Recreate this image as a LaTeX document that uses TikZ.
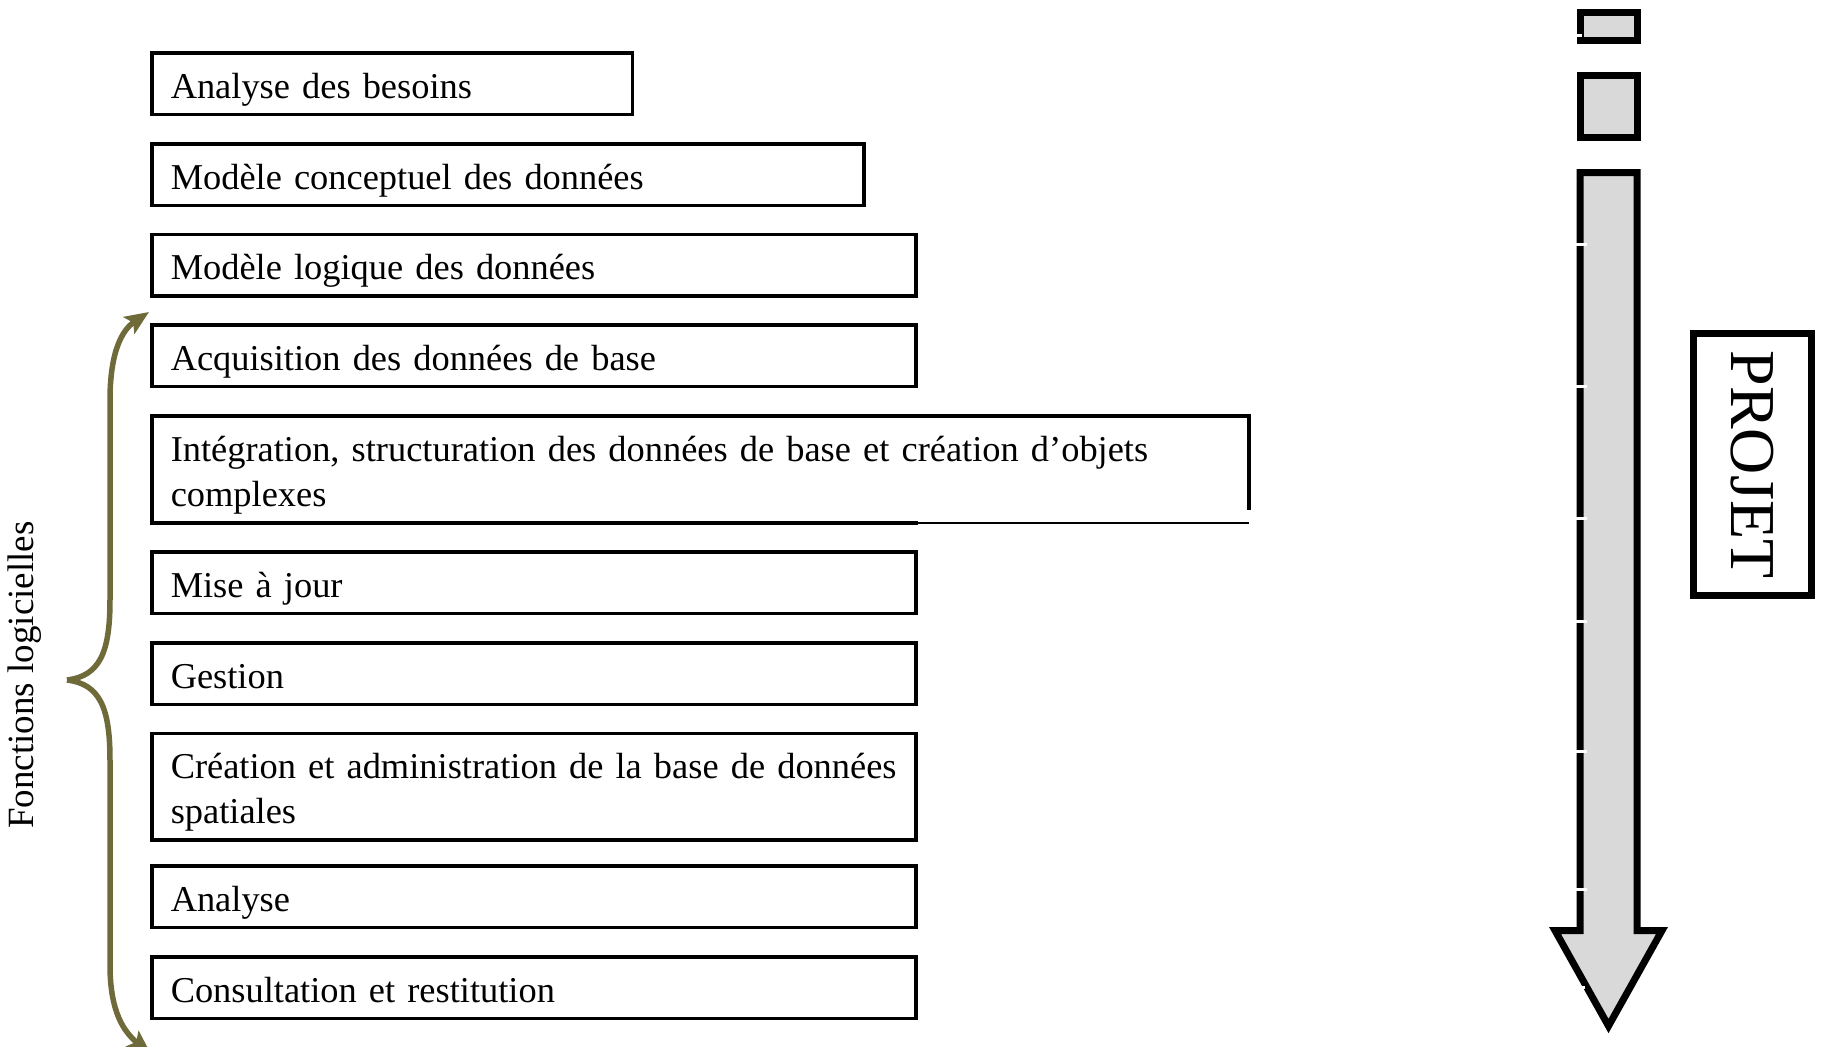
\documentclass[tikz,border=0pt]{standalone}
\usepackage{fontspec}
\setmainfont{Liberation Serif}
\usetikzlibrary{arrows.meta,calc}
\definecolor{braceolive}{RGB}{111,106,58}
\definecolor{arrowgray}{RGB}{217,217,217}
\hyphenpenalty=10000
\exhyphenpenalty=10000
\begin{document}
\begin{tikzpicture}[x=1pt,y=-1pt,
  box/.style={draw=black, line width=3.5pt, anchor=north west, outer sep=0pt,
    inner xsep=19pt, inner ysep=0pt, align=left,
    font=\fontsize{36.4}{45}\selectfont,
    text height=33pt, text depth=4pt,
    minimum height=61.5pt},
  twoline/.style={text height=33pt, text depth=50pt},
  bigarrow/.style={draw=black, line width=7pt, fill=arrowgray, line join=miter},
  gap/.style={draw=white, line width=3pt},
  bracearrow/.style={draw=braceolive, line width=5.5pt, -{Stealth[length=24pt,width=20pt,inset=5pt]}}
]
\useasboundingbox (0,0) rectangle (1824,1047);

% boxes
\node[box, minimum width=480.5pt, text width=442.5pt] (b1) at (151.75,53) {Analyse des besoins};
\node[box, minimum width=712pt, text width=674pt] (b2) at (151.75,144) {Modèle conceptuel des données};
\node[box, minimum width=764pt, text width=726pt] (b3) at (151.75,234.5) {Modèle logique des données};
\node[box, minimum width=764pt, text width=726pt] (b4) at (151.75,325) {Acquisition des données de base};
\node[box, twoline, draw=none, minimum width=1097pt, text width=1059pt, minimum height=107pt] (b5) at (151.75,416)
  {\mbox{Intégration, structuration des données de base et création d’objets}\\complexes};
\draw[line width=3.5pt, line join=miter] (b5.south west) -- (b5.north west) -- (b5.north east) -- ($(b5.north east)!0.88!(b5.south east)$);
\draw[line width=3.5pt, line cap=rect] (b5.south west) -- ($(b5.south west)!0.6967!(b5.south east)$);
\draw[line width=2.2pt] ($(b5.south west)!0.6967!(b5.south east)$) -- (b5.south east);
\node[box, minimum width=764pt, text width=726pt] (b6) at (151.75,552) {Mise à jour};
\node[box, minimum width=764pt, text width=726pt] (b7) at (151.75,643) {Gestion};
\node[box, twoline, minimum width=764pt, text width=726pt, minimum height=106.5pt] (b8) at (151.75,733.5)
  {\mbox{Création et administration de la base de données}\\spatiales};
\node[box, minimum width=764pt, text width=726pt] (b9) at (151.75,866) {Analyse};
\node[box, minimum width=764pt, text width=726pt] (b10) at (151.75,957) {Consultation et restitution};

% brace
\coordinate (bmid) at (67,680);
\coordinate (btop) at (149,312);
\coordinate (bbot) at (151,1054);
\draw[bracearrow] (bmid) .. controls (100,676) and (110,652) .. (110,600) -- (110,400)
  .. controls (110,352) and (122,330) .. (btop);
\draw[bracearrow] (bmid) .. controls (100,684) and (110,708) .. (110,760) -- (110,965)
  .. controls (110,1012) and (124,1032) .. (bbot);
\node[rotate=90, font=\fontsize{37}{45}\selectfont, inner sep=0pt] (fl) at (25,675) {Fonctions logicielles};

% big arrow
\draw[bigarrow] (1580,12.5) rectangle (1637,40.5);
\draw[bigarrow] (1580,75.5) rectangle (1637,137.5);
\draw[bigarrow] (1580,172.5) -- (1637,172.5) -- (1637,930.5) -- (1662,930.5) -- (1608.5,1026)
  -- (1555,930.5) -- (1580,930.5) -- cycle;
\foreach \yy in {244,386,518,621,751,889} {
  \draw[gap] (1572,\yy) -- (1587,\yy);
}
\draw[gap] (1572,35) -- (1582,35);
\draw[gap] (1578,987) -- (1585,987);

% PROJET
\node[draw, line width=7pt, rotate=-90, minimum width=262pt, minimum height=118pt, inner sep=0pt,
  font=\fontsize{64}{70}\selectfont] (projet) at (1752.5,464.5) {PROJET};
\end{tikzpicture}
\end{document}
